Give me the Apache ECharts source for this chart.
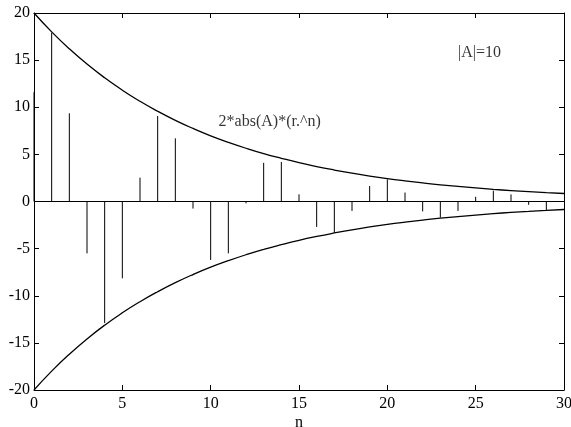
<!DOCTYPE html>
<html>
<head>
<meta charset="utf-8">
<script src="https://cdn.jsdelivr.net/npm/echarts@6/dist/echarts.min.js"></script>
<style>html,body{margin:0;padding:0;background:#fff}#c{width:571px;height:427px}</style>
</head>
<body>
<div id="c"></div>
<script>
// sample index n and the stem values x[n]
const n = [0,1,2,3,4,5,6,7,8,9,10,11,12,13,14,15,16,17,18,19,20,21,22,23,24,25,26,27,28,29];
const stemValues = [11.6,17.9,9.36,-5.5,-12.9,-8.15,2.53,9.07,6.7,-0.75,-6.2,-5.5,-0.2,4.1,4.2,0.76,-2.7,-3.3,-1.0,1.65,2.35,0.95,-1.05,-1.7,-1.0,0.5,1.15,0.75,-0.35,-0.95];
// envelope 2*abs(A)*(r.^n), sampled at integer n
const envN = [0,1,2,3,4,5,6,7,8,9,10,11,12,13,14,15,16,17,18,19,20,21,22,23,24,25,26,27,28,29,30];
const envelope = [20,18,16.2,14.58,13.12,11.81,10.63,9.57,8.61,7.75,6.97,6.28,5.65,5.08,4.58,4.12,3.71,3.34,3.0,2.7,2.43,2.19,1.97,1.77,1.6,1.44,1.29,1.16,1.05,0.94,0.85];
const xTicks = [0,5,10,15,20,25,30];
const yTicks = [-20,-15,-10,-5,0,5,10,15,20];

const font = 'Liberation Serif, Times New Roman, serif';
const chart = echarts.init(document.getElementById('c'));

const tickStyle = {show: true, inside: true, length: 5, lineStyle: {color: '#000', width: 1}};
const axisLine = {show: true, onZero: false, lineStyle: {color: '#000', width: 1}};

chart.setOption({
  animation: false,
  backgroundColor: '#fff',
  grid: {left: 34, right: 7, top: 13, bottom: 37, containLabel: false, outerBoundsMode: 'none'},
  xAxis: [
    {type: 'value', min: xTicks[0], max: xTicks[xTicks.length - 1], interval: 5, position: 'bottom',
     name: 'n', nameLocation: 'middle', nameGap: 25, nameMoveOverlap: false,
     nameTextStyle: {fontFamily: font, fontSize: 16, color: '#000'},
     axisLine: axisLine, axisTick: tickStyle, splitLine: {show: false},
     axisLabel: {fontFamily: font, fontSize: 16, color: '#000', margin: 6}},
    {type: 'value', min: xTicks[0], max: xTicks[xTicks.length - 1], interval: 5, position: 'top',
     axisLine: axisLine, axisTick: tickStyle, splitLine: {show: false}, axisLabel: {show: false}}
  ],
  yAxis: [
    {type: 'value', min: yTicks[0], max: yTicks[yTicks.length - 1], interval: 5, position: 'left',
     axisLine: axisLine, axisTick: tickStyle, splitLine: {show: false},
     axisLabel: {fontFamily: font, fontSize: 16, color: '#000', margin: 4}},
    {type: 'value', min: yTicks[0], max: yTicks[yTicks.length - 1], interval: 5, position: 'right',
     axisLine: axisLine, axisTick: tickStyle, splitLine: {show: false}, axisLabel: {show: false}}
  ],
  series: [
    {
      type: 'line', smooth: true, symbol: 'none', silent: true,
      lineStyle: {color: '#000', width: 1.3},
      data: envN.map((k, i) => [k, envelope[i]])
    },
    {
      type: 'line', smooth: true, symbol: 'none', silent: true,
      lineStyle: {color: '#000', width: 1.3},
      data: envN.map((k, i) => [k, -envelope[i]])
    },
    {
      // zero baseline of the stem plot
      type: 'line', symbol: 'none', silent: true,
      lineStyle: {color: '#000', width: 1},
      data: [[0, 0], [30, 0]]
    },
    {
      type: 'custom', silent: true,
      data: n.map((k, i) => [k, stemValues[i]]),
      renderItem: function (params, api) {
        const p0 = api.coord([api.value(0), 0]);
        const p1 = api.coord([api.value(0), api.value(1)]);
        return {type: 'line', shape: {x1: p0[0], y1: p0[1], x2: p1[0], y2: p1[1]},
                style: {stroke: '#000', lineWidth: 1}};
      }
    },
    {
      type: 'scatter', symbolSize: 0, silent: true,
      data: [
        {value: [10.45, 8.5], label: {show: true, formatter: '2*abs(A)*(r.^n)', position: 'right', distance: 0}},
        {value: [24.0, 15.75], label: {show: true, formatter: '|A|=10', position: 'right', distance: 0}}
      ],
      label: {fontFamily: font, fontSize: 16, color: '#000'}
    }
  ]
});
</script>
</body>
</html>
